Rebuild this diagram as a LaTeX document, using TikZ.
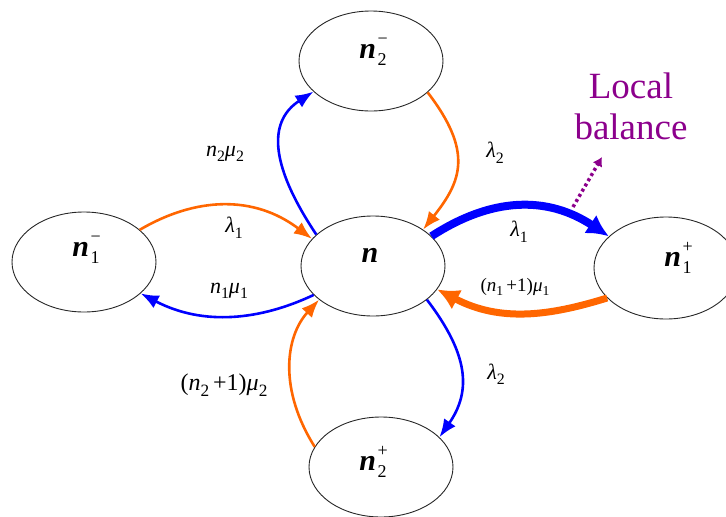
\documentclass[tikz,border=0pt]{standalone}
\usepackage{fontspec}
\setmainfont{Liberation Serif}
\usetikzlibrary{shapes.geometric,arrows.meta}
\definecolor{myorange}{RGB}{255,102,0}
\definecolor{myblue}{RGB}{0,0,255}
\definecolor{mypurple}{RGB}{140,0,140}
\newcommand{\nstate}[2]{\textbf{\textit{n}}\kern1.5pt\rlap{\raisebox{0.45em}{\fontsize{18}{18}\selectfont #2}}\raisebox{-0.25em}{\fontsize{18}{18}\selectfont #1}}
\newcommand{\ds}[1]{\raisebox{-0.25em}{\fontsize{0.72em}{0.72em}\selectfont\upshape #1}}
\begin{document}
\begin{tikzpicture}[x=1pt,y=1pt,
  state/.style={ellipse, draw=black!85, line width=0.9pt, minimum width=144pt, minimum height=100pt, inner sep=0pt},
  lab/.style={font=\fontsize{30}{30}\selectfont},
  rate/.style={font=\fontsize{22}{22}\selectfont\itshape, inner sep=1pt},
  arrthin/.style={line width=2.6pt, -{Latex[length=18pt,width=14pt]}},
  arrthick/.style={line width=8pt, -{Latex[length=22pt,width=22pt]}}
]
\useasboundingbox (0,0) rectangle (726,-517);
\clip (0,0) rectangle (726,-517);

% states
\node[state, label={[lab,yshift=11pt,xshift=-3pt]center:\textbf{\textit{n}}}] (n) at (373,-266) {};
\node[state, label={[lab,yshift=12pt,xshift=2pt]center:\nstate{1}{−}}] (l) at (84,-262) {};
\node[state, label={[lab,yshift=9pt,xshift=2pt]center:\nstate{2}{−}}] (t) at (371,-61) {};
\node[state, minimum height=102pt, label={[lab,yshift=10pt,xshift=12pt]center:\nstate{1}{+}}] (r) at (666,-268) {};
\node[state, label={[lab,yshift=5pt,xshift=-8pt]center:\nstate{2}{+}}] (b) at (381,-467) {};

% thin arrows
\draw[arrthin, myblue] (n.151) .. controls +(-50,75) and +(-43,-28) .. (t.208);
\draw[arrthin, myorange] (t.331) .. controls +(46,-60) and +(38,48) .. (n.36);
\draw[arrthin, myorange] (l.30) .. controls +(56,33) and +(-58,44) .. (n.156);
\draw[arrthin, myblue] (n.206) .. controls +(-53,-25) and +(63,-33) .. (l.331);
\draw[arrthin, myorange] (b.163) .. controls +(-36,57) and +(-34,-37) .. (n.212);
\draw[arrthin, myblue] (n.328) .. controls +(42,-55) and +(32,46) .. (b.27);

% thick arrows
\draw[arrthick, myblue] (n.27) .. controls +(60,39) and +(-62,41) .. (r.151);
\draw[arrthick, myorange, line width=7pt] (r.207) .. controls +(-58,-18) and +(63,-33) .. (n.340);

% rate labels
\node[rate] (a1) at (225,-154) {n\ds{2}μ\ds{2}};
\node[rate] (a2) at (234,-228) {λ\ds{1}};
\node[rate] (a3) at (229,-291) {n\ds{1}μ\ds{1}};
\node[rate] (a4) at (495,-153) {λ\ds{2}};
\node[rate] (a5) at (519,-232) {λ\ds{1}};
\node[rate, font=\fontsize{19}{19}\selectfont\itshape] (a6) at (515,-287) {\upshape(\itshape n\ds{1}\,\upshape+1)\itshape μ\ds{1}};
\node[rate, font=\fontsize{24}{24}\selectfont\itshape] (a7) at (224,-385) {\upshape(\itshape n\ds{2}\,\upshape+1)\itshape μ\ds{2}};
\node[rate] (a8) at (496,-374) {λ\ds{2}};

% local balance
\node[text=mypurple, font=\fontsize{37}{41}\selectfont, align=center, inner sep=0pt] (lb) at (631,-106) {Local\\balance};
\coordinate (d1) at (573,-207);
\coordinate (d2) at (602,-157);
\draw[mypurple, line width=3.5pt, dash pattern=on 3pt off 3pt, -{Latex[length=9pt,width=11pt]}] (d1) -- (d2);
\end{tikzpicture}
\end{document}
